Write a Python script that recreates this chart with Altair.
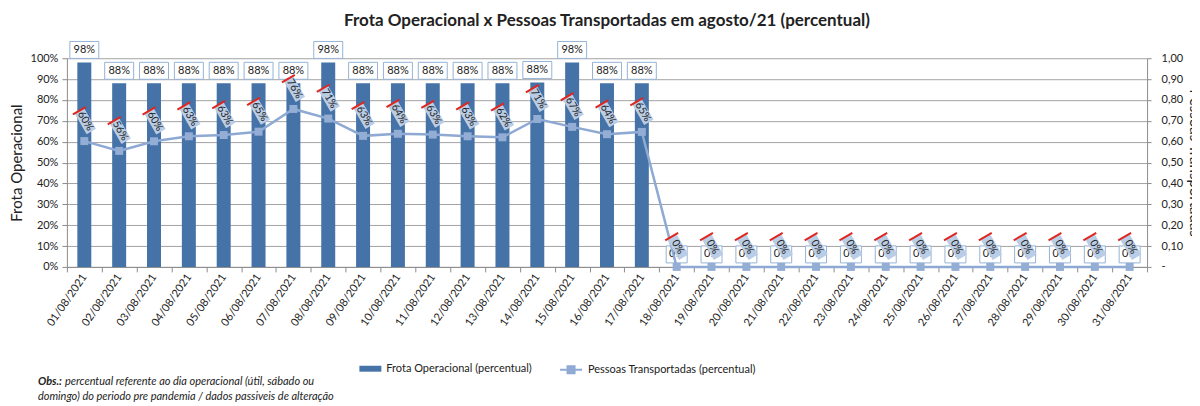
import altair as alt
import pandas as pd

datas = ["01/08/2021", "02/08/2021", "03/08/2021", "04/08/2021", "05/08/2021", "06/08/2021",
         "07/08/2021", "08/08/2021", "09/08/2021", "10/08/2021", "11/08/2021", "12/08/2021",
         "13/08/2021", "14/08/2021", "15/08/2021", "16/08/2021", "17/08/2021", "18/08/2021",
         "19/08/2021", "20/08/2021", "21/08/2021", "22/08/2021", "23/08/2021", "24/08/2021",
         "25/08/2021", "26/08/2021", "27/08/2021", "28/08/2021", "29/08/2021", "30/08/2021",
         "31/08/2021"]
frota = [0.98, 0.88, 0.88, 0.88, 0.88, 0.88, 0.88, 0.98, 0.88, 0.88, 0.88, 0.88, 0.88, 0.884,
         0.98, 0.88, 0.88, 0, 0, 0, 0, 0, 0, 0, 0, 0, 0, 0, 0, 0, 0]
pessoas = [0.603, 0.556, 0.602, 0.626, 0.632, 0.648, 0.757, 0.711, 0.628, 0.638, 0.634, 0.626,
           0.621, 0.709, 0.671, 0.636, 0.647, 0, 0, 0, 0, 0, 0, 0, 0, 0, 0, 0, 0, 0, 0]
serie_frota = "Frota Operacional (percentual)"
serie_pessoas = "Pessoas Transportadas (percentual)"
titulo = "Frota Operacional x Pessoas Transportadas em agosto/21 (percentual)"
titulo_esq = "Frota Operacional"
titulo_dir = "Pessoas Transportadas"
obs_negrito = "Obs.:"
obs_linha1 = "percentual referente ao dia operacional (útil, sábado ou"
obs_linha2 = "domingo) do periodo pre pandemia / dados passiveis de alteração"
ticks_y = [0, 0.1, 0.2, 0.3, 0.4, 0.5, 0.6, 0.7, 0.8, 0.9, 1.0]

df = pd.DataFrame({"data": datas, "frota": frota, "pessoas": pessoas})

FONT = "Lato"
BAR = "#4572A7"
LINE = "#8EA9D3"
MARK = "#94ADD5"
BORDER = "#95B3D7"
TXT = "#222222"
AXC = "#8C8C8C"

legend_bar = alt.Legend(
    title=None, orient="none", legendX=293, legendY=300, direction="horizontal",
    symbolType="M-1,-0.27H1V0.27H-1Z", symbolSize=484, symbolStrokeWidth=0,
    labelFont=FONT, labelFontSize=11, labelColor=TXT, labelOffset=5, labelLimit=300,
    padding=0)
legend_line = alt.Legend(
    title=None, orient="none", legendX=493, legendY=300, direction="horizontal",
    symbolType="M-1,0H1M-0.32,-0.32H0.32V0.32H-0.32Z", symbolSize=484, symbolStrokeWidth=2,
    symbolFillColor=MARK,
    labelFont=FONT, labelFontSize=11, labelColor=TXT, labelOffset=5, labelLimit=300,
    padding=0)

x = alt.X("data:N", sort=None, scale=alt.Scale(paddingInner=0, paddingOuter=0),
          axis=alt.Axis(title=None, labelAngle=305, tickBand="extent", grid=False,
                        domainColor=AXC, tickColor=AXC, tickSize=5, labelPadding=3,
                        labelFontSize=11, labelOverlap=False))

axis_l = alt.Axis(format="%", values=ticks_y, tickCount=11, title=titulo_esq, grid=True,
                  gridColor="#A3A3A3", domainColor=AXC, tickColor=AXC, tickSize=5,
                  labelPadding=4, titlePadding=6, titleFontSize=15,
                  titleFontWeight="normal", labelOverlap=False)
axis_r = alt.Axis(orient="right", values=ticks_y, tickCount=11, title=titulo_dir, grid=False,
                  labelExpr="datum.value == 0 ? '-' : replace(format(datum.value, '.2f'), '.', ',')",
                  domainColor=AXC, tickColor=AXC, tickSize=4, labelPadding=10,
                  titlePadding=4, titleFontSize=15, titleFontWeight="normal",
                  labelOverlap=False)
scale_l = alt.Scale(domain=[0, 1], nice=False)
scale_r = alt.Scale(domain=[0, 1], nice=False)

yl = alt.Y("frota:Q", scale=scale_l, axis=axis_l)
yr = alt.Y("pessoas:Q", scale=scale_r, axis=axis_r)

base = alt.Chart(df)

bars = base.transform_calculate(serie=f"'{serie_frota}'").mark_bar(width=14).encode(
    x=x, y=yl,
    color=alt.Color("serie:N", scale=alt.Scale(domain=[serie_frota], range=[BAR]),
                    legend=legend_bar))

bar_boxes = base.transform_calculate(w="datum.frota > 0 ? 29 : 21").mark_bar(
    fill="white", stroke=BORDER, strokeWidth=1, yOffset=-21, y2Offset=-4
).encode(x=x, y=yl, y2=alt.Y2("frota"),
         size=alt.Size("w:Q", scale=None, legend=None))

bar_texts = base.mark_text(yOffset=-12.5, fontSize=11, font=FONT, color=TXT).encode(
    x=x, y=yl, text=alt.Text("frota:Q", format=".0%"))

left = alt.layer(bars, bar_boxes, bar_texts)

line = base.transform_calculate(serie=f"'{serie_pessoas}'").mark_line(strokeWidth=2.5).encode(
    x=x, y=yr,
    stroke=alt.Stroke("serie:N", scale=alt.Scale(domain=[serie_pessoas], range=[LINE]),
                      legend=legend_line))

points = base.mark_point(shape="square", filled=True, size=64, color=MARK, opacity=1).encode(
    x=x, y=yr)

lab_boxes = base.mark_point(shape="M-0.45,-1H0.45V1H-0.45Z", angle=330, filled=True,
                            fill="#BACDE6", opacity=1, size=576, yOffset=-20, xOffset=1).encode(
    x=x, y=yr)

lab_edges = base.mark_point(shape="M-0.62,-1L0.62,-1", angle=330, filled=False,
                            stroke="#E0261F", strokeWidth=2, opacity=1, size=576,
                            yOffset=-20, xOffset=1).encode(x=x, y=yr)

lab_texts = base.mark_text(angle=60, yOffset=-20, xOffset=1, fontSize=10.5, font=FONT,
                           color=TXT).encode(
    x=x, y=yr, text=alt.Text("pessoas:Q", format=".0%"))

right = alt.layer(line, points, lab_boxes, lab_edges, lab_texts)

obs_df = pd.DataFrame({"a": [obs_negrito], "b": [obs_linha1], "c": [obs_linha2]})
obs_a = alt.Chart(obs_df).mark_text(align="left", font=FONT, fontSize=11, fontStyle="italic",
                                     fontWeight="bold", color=TXT).encode(
    x=alt.value(-29), y=alt.value(324), text="a:N")
obs_b = alt.Chart(obs_df).mark_text(align="left", font=FONT, fontSize=11, fontStyle="italic",
                                     color=TXT).encode(
    x=alt.value(-2), y=alt.value(324), text="b:N")
obs_c = alt.Chart(obs_df).mark_text(align="left", font=FONT, fontSize=11, fontStyle="italic",
                                     color=TXT).encode(
    x=alt.value(-29), y=alt.value(339), text="c:N")

chart = alt.layer(left, right, obs_a, obs_b, obs_c).resolve_scale(y="independent").properties(
    width=1082, height=209,
    title=alt.TitleParams(text=titulo, font=FONT, fontSize=17, fontWeight="bold", color=TXT,
                          anchor="middle", offset=11),
    autosize=alt.AutoSizeParams(type="none"),
    padding={"left": 59, "top": 50, "right": 45, "bottom": 137},
).configure_view(stroke=None).configure_axis(
    labelFont=FONT, titleFont=FONT, labelColor=TXT, titleColor=TXT, labelFontSize=11
)

chart.save("out.html", embed_options={"renderer": "svg", "actions": False})
